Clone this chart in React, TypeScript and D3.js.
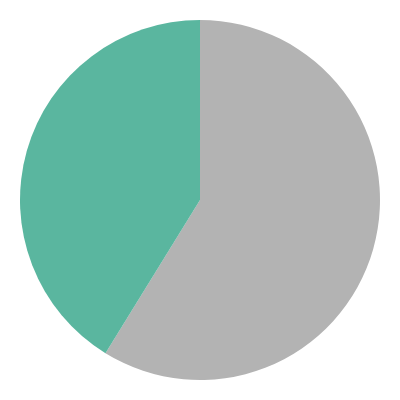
import * as d3 from "d3";

const categories = ["A", "B"];
const values = [58.8, 41.2];
const colors = ["#b3b3b3", "#5ab69f"];

export default function App() {
  const width = 400;
  const height = 400;
  const radius = 180;

  const pie = d3.pie<number>().sort(null).value((d) => d);
  const arcs = pie(values);
  const arc = d3.arc<d3.PieArcDatum<number>>().innerRadius(0).outerRadius(radius);

  return (
    <div style={{ position: "fixed", left: 0, top: 0, background: "#fff" }}>
      <svg width={width} height={height} style={{ display: "block" }}>
        <g transform={`translate(${width / 2},${height / 2})`}>
          {arcs.map((a, i) => (
            <path key={categories[i]} d={arc(a) ?? ""} fill={colors[i]} />
          ))}
        </g>
      </svg>
    </div>
  );
}
